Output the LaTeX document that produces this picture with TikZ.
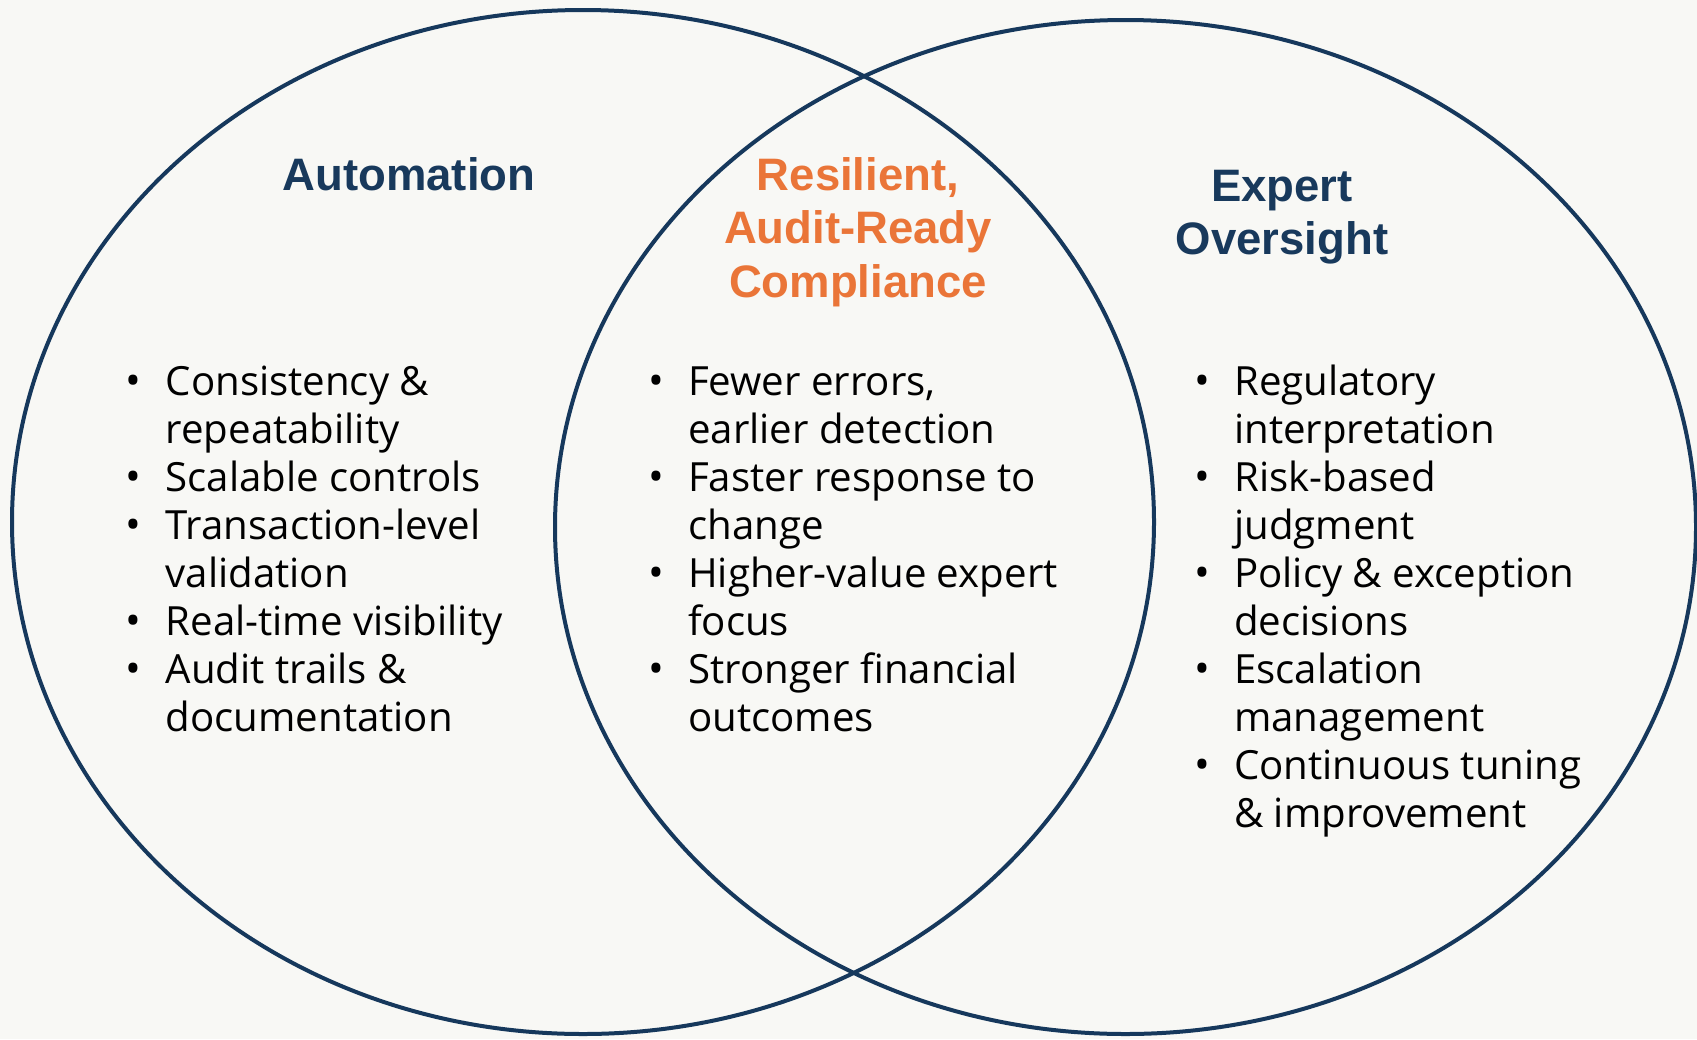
\documentclass[tikz,border=0pt]{standalone}
\usepackage{fontspec}
\setmainfont{Open Sans}
\newfontfamily\headfont{Liberation Sans}
\definecolor{bgc}{RGB}{248,248,245}
\definecolor{navy}{RGB}{22,56,92}
\definecolor{navytext}{RGB}{24,57,92}
\definecolor{orangec}{RGB}{234,117,56}
\tikzset{
  ring/.style={draw=navy, line width=4pt},
  head/.style={font=\headfont\bfseries\fontsize{45.5}{54}\selectfont, align=center, inner sep=0pt, anchor=base},
  line/.style={font=\fontsize{40.2}{48}\selectfont, text=black, inner sep=0pt, anchor=base west},
  bul/.style={font=\fontsize{42}{48}\selectfont, text=black, inner sep=0pt, anchor=base}
}
\begin{document}
\begin{tikzpicture}[x=1pt,y=-1pt]
\useasboundingbox (0,0) rectangle (1697,1039);
\fill[bgc] (0,0) rectangle (1697,1039);
\draw[ring] (583,522) ellipse [x radius=571pt, y radius=512pt];
\draw[ring] (1125.5,527) ellipse [x radius=570.5pt, y radius=507pt];
% headings
\node[head, text=navytext] (hA) at (409,190) {Automation};
\node[head, text=orangec] (hR1) at (858,190) {Resilient,};
\node[head, text=orangec] (hR2) at (858,243.5) {Audit-Ready};
\node[head, text=orangec] (hR3) at (858,297) {Compliance};
\node[head, text=navytext] (hE1) at (1282,201.5) {Expert};
\node[head, text=navytext] (hE2) at (1282,254.5) {Oversight};
% left column
\node[bul] (lb1) at (133,395) {•};
\node[line] (l1) at (165.5,395) {Consistency \&};
\node[line] (l2) at (165.5,443) {repeatability};
\node[bul] (lb2) at (133,491) {•};
\node[line] (l3) at (165.5,491) {Scalable controls};
\node[bul] (lb3) at (133,539) {•};
\node[line] (l4) at (165.5,539) {Transaction-level};
\node[line] (l5) at (165.5,587) {validation};
\node[bul] (lb4) at (133,635) {•};
\node[line] (l6) at (165.5,635) {Real-time visibility};
\node[bul] (lb5) at (133,683) {•};
\node[line] (l7) at (165.5,683) {Audit trails \&};
\node[line] (l8) at (165.5,731) {documentation};
% center column
\node[bul] (cb1) at (656,395) {•};
\node[line] (c1) at (688,395) {Fewer errors,};
\node[line] (c2) at (688,443) {earlier detection};
\node[bul] (cb2) at (656,491) {•};
\node[line] (c3) at (688,491) {Faster response to};
\node[line] (c4) at (688,539) {change};
\node[bul] (cb3) at (656,587) {•};
\node[line] (c5) at (688,587) {Higher-value expert};
\node[line] (c6) at (688,635) {focus};
\node[bul] (cb4) at (656,683) {•};
\node[line] (c7) at (688,683) {Stronger financial};
\node[line] (c8) at (688,731) {outcomes};
% right column
\node[bul] (rb1) at (1202,395) {•};
\node[line] (r1) at (1234,395) {Regulatory};
\node[line] (r2) at (1234,443) {interpretation};
\node[bul] (rb2) at (1202,491) {•};
\node[line] (r3) at (1234,491) {Risk-based};
\node[line] (r4) at (1234,539) {judgment};
\node[bul] (rb3) at (1202,587) {•};
\node[line] (r5) at (1234,587) {Policy \& exception};
\node[line] (r6) at (1234,635) {decisions};
\node[bul] (rb4) at (1202,683) {•};
\node[line] (r7) at (1234,683) {Escalation};
\node[line] (r8) at (1234,731) {management};
\node[bul] (rb5) at (1202,779) {•};
\node[line] (r9) at (1234,779) {Continuous tuning};
\node[line] (r10) at (1234,827) {\& improvement};
\end{tikzpicture}
\end{document}
